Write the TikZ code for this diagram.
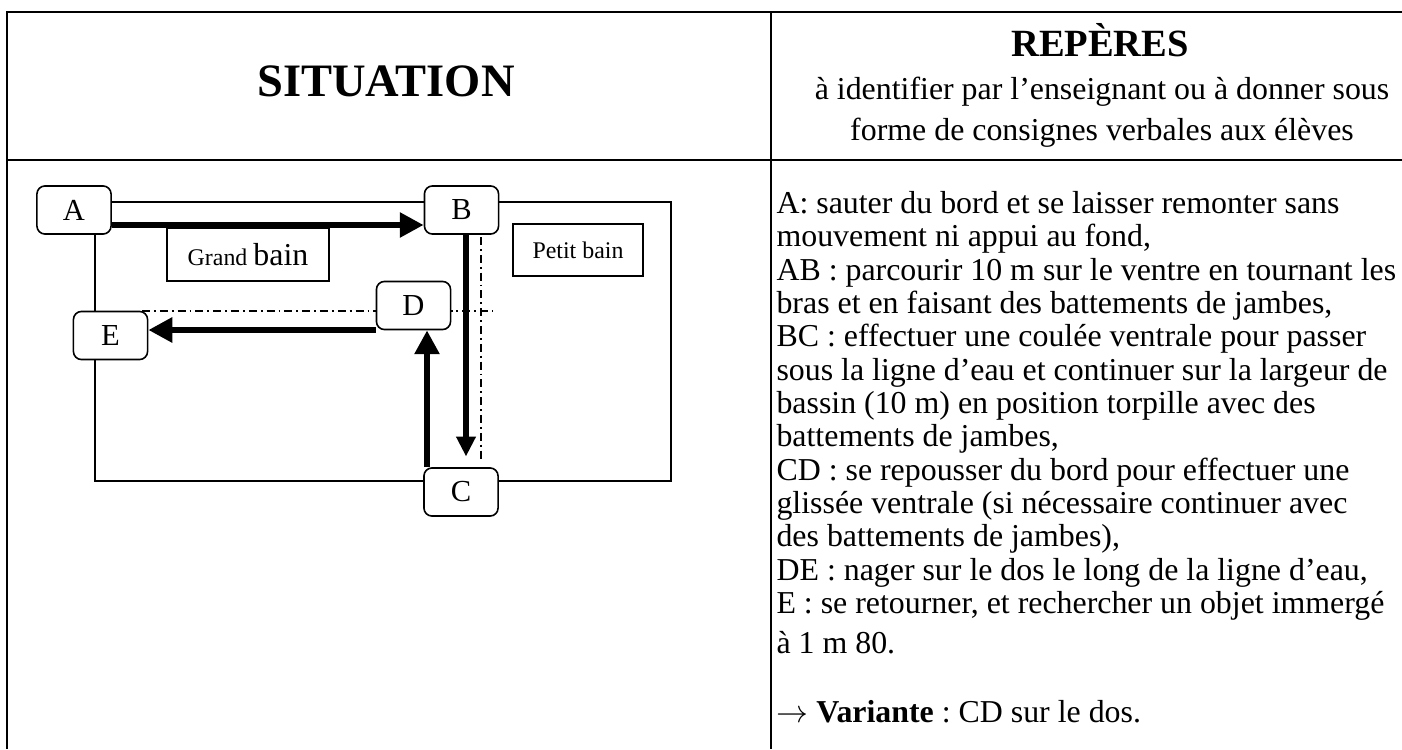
\documentclass[tikz,border=0pt]{standalone}
\usepackage{fontspec}
\setmainfont{Liberation Serif}
\usetikzlibrary{arrows.meta}
\frenchspacing

\begin{document}
\begin{tikzpicture}[x=0.3765pt, y=-0.3765pt,
    rule/.style={line width=0.9pt},
    station/.style={draw, fill=white, rounded corners=3pt, line width=0.6pt,
      minimum width=27.9pt, minimum height=18.1pt, inner sep=0pt,
      font=\fontsize{11.5}{13}\selectfont},
    zone/.style={draw, fill=white, line width=0.6pt, inner sep=0pt},
    swim/.style={line width=2.6pt, -{Triangle[length=9pt,width=9pt]}},
    glide/.style={line width=1.9pt, -{Triangle[length=7.5pt,width=7pt]}},
    lane/.style={line width=0.5pt, dash pattern=on 3pt off 1.5pt on 0.7pt off 1.5pt}]
  \useasboundingbox (0,0) rectangle (1402,749);
  % table
  \draw[rule] (7,749) -- (7,12) -- (1402,12);
  \draw[rule] (7,160) -- (1402,160);
  \draw[rule] (771,12) -- (771,749);
  \node[font=\bfseries\fontsize{17.5}{20}\selectfont] (situation) at (386,81) {SITUATION};
  \node[font=\bfseries\fontsize{14.5}{17}\selectfont] (reperes) at (1100,40) {REPÈRES};
  \node[align=center, inner sep=0pt, font=\fontsize{12}{15.4}\selectfont] (consigne) at (1102,112)
    {à identifier par l’enseignant ou à donner sous\\forme de consignes verbales aux élèves};
  % pool
  \draw[line width=0.6pt] (95,202) rectangle (671,481);
  \draw[lane] (142,311) -- (493,311);
  \draw[lane] (481,237) -- (481,462);
  \node[zone, minimum width=61pt, minimum height=20pt] (grand) at (248,254.5)
    {\fontsize{9}{11}\selectfont Grand \fontsize{12}{14}\selectfont bain};
  \node[zone, minimum width=48.9pt, minimum height=19.6pt, font=\fontsize{9}{11}\selectfont] (petit) at (578,250) {Petit bain};
  \node[station] (A) at (74,210) {A};
  \node[station] (B) at (461.5,210) {B};
  \node[station] (C) at (461,492) {C};
  \node[station] (D) at (413.5,305.5) {D};
  \node[station] (E) at (110.5,335.5) {E};
  \draw[swim] (A.east |- 0,225) -- (B.west |- 0,225);
  \draw[glide, shorten >=4pt] (B.south -| 466,0) -- (C.north -| 466,0);
  \draw[swim] (C.north -| 427,0) -- (D.south -| 427,0);
  \draw[swim] (D.west |- 0,330) -- (E.east |- 0,330);
  % steps
  \node[anchor=north west, align=left, inner sep=0pt, font=\fontsize{12}{12.54}\selectfont] (steps) at (776,191)
    {A: sauter du bord et se laisser remonter sans\\
     mouvement ni appui au fond,\\
     AB : parcourir 10 m sur le ventre en tournant les\\
     bras et en faisant des battements de jambes,\\
     BC : effectuer une coulée ventrale pour passer\\
     sous la ligne d’eau et continuer sur la largeur de\\
     bassin (10 m) en position torpille avec des\\
     battements de jambes,\\
     CD : se repousser du bord pour effectuer une\\
     glissée ventrale (si nécessaire continuer avec\\
     des battements de jambes),\\
     DE : nager sur le dos le long de la ligne d’eau,\\
     E : se retourner, et rechercher un objet immergé\\[2.5pt]
     à 1 m 80.\\[13.4pt]
     $\rightarrow$ \textbf{Variante} : CD sur le dos.};
\end{tikzpicture}
\end{document}
